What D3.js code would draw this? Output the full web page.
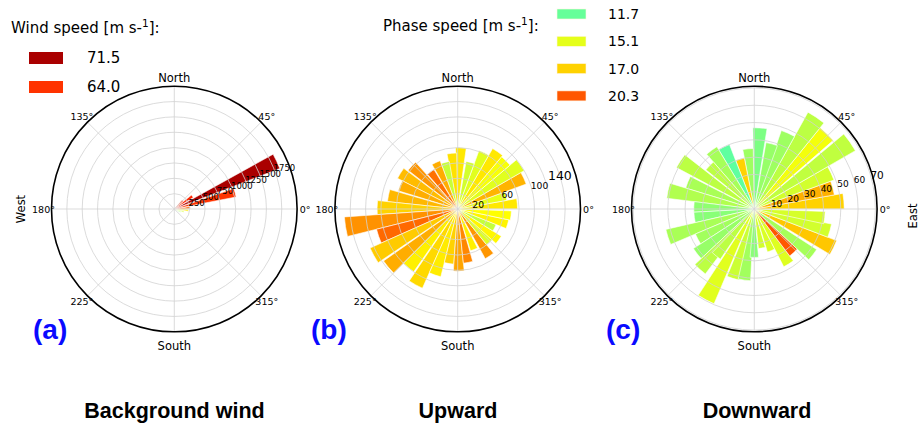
<!DOCTYPE html>
<html>
<head>
<meta charset="utf-8">
<script src="https://cdn.jsdelivr.net/npm/d3@7"></script>
<style>
  body { margin: 0; background: #fff; }
  text { font-family: "DejaVu Sans", sans-serif; fill: #000; }
</style>
</head>
<body>
<script>
// ---- data ----
// (a) background wind: direction (deg, counter-clockwise from east), count, wind speed
const dirA   = [335, 345, 355, 5, 15, 25, 35, 45];
const countA = [110, 160, 230, 260, 1025, 1840, 360, 195];
const speedA = [47, 50, 53.7, 61.2, 64.0, 71.5, 64.8, 64.5];
const ringsA = [250, 500, 750, 1000, 1250, 1500, 1750];
const legendA = [71.5, 64.0];

// (b) upward: direction, count, phase speed
const dirB   = [5, 15, 25, 35, 45, 55, 65, 75, 87, 96, 105, 115, 126, 137, 148, 158, 169, 179,
                189, 199, 209, 220, 230, 241, 251, 261, 271, 281, 292, 304, 314, 323, 333, 343, 353];
const countB = [78, 65, 95, 100, 89, 91, 81, 63, 80, 73, 63, 67, 60, 82, 88, 81, 92, 105,
                148, 109, 125, 118, 100, 113, 91, 72, 81, 71, 57, 74, 60, 67, 54, 68, 70];
const speedB = [16.4, 15.2, 17.8, 15.0, 15.6, 16.4, 15.0, 14.6, 16.4, 16.6, 14.3, 18.0, 19.6, 18.6, 17.6, 18.0, 17.7, 17.0,
                18.7, 19.8, 17.2, 18.0, 16.2, 16.8, 16.3, 17.0, 18.2, 19.0, 16.2, 18.6, 14.9, 16.0, 14.2, 16.1, 15.8];
const ringsB = [20, 40, 60, 80, 100, 120, 140];
const labelsB = [20, 60, 100];

// (c) downward: direction, count, phase speed
const dirC   = [5, 15, 25, 35, 46, 56, 66, 75, 86, 96, 106, 116, 126, 136, 147, 158, 168, 178,
                188, 198, 208, 218, 228, 231, 242, 253, 262, 270, 281, 292, 302, 312, 322, 334, 344, 353];
const countC = [52, 47, 49, 67.5, 60.5, 64, 48, 39, 47, 35, 30, 40, 42, 36, 51, 41.5, 51, 35,
                35, 52.5, 37, 42, 47, 35, 59.5, 42, 41.5, 28, 23, 26, 37.5, 34, 43, 51, 45.5, 41];
const speedC = [17.0, 17.9, 14.6, 14.1, 15.5, 14.0, 13.2, 13.0, 12.3, 13.2, 17.0, 11.5, 13.4, 14.0, 14.0, 13.5, 13.7, 12.8,
                12.6, 13.5, 13.3, 13.0, 14.0, 14.0, 15.0, 14.4, 13.3, 12.6, 14.6, 14.8, 14.9, 20.3, 13.4, 17.3, 14.6, 14.7];
const ringsC = [10, 20, 30, 40, 50, 60, 70];
const labelsC = [10, 20, 30, 40, 50, 60];

const legendPhase = [11.7, 15.1, 17.0, 20.3];
const thetaLabels = [["0°", 0], ["45°", 45], ["North", 90], ["135°", 135],
                     ["180°", 180], ["225°", 225], ["South", 270], ["315°", 315]];

// matplotlib "jet"
function jet(t) {
  const c = x => Math.max(0, Math.min(1, x));
  return d3.rgb(255 * c(1.5 - Math.abs(4 * t - 3)),
                255 * c(1.5 - Math.abs(4 * t - 2)),
                255 * c(1.5 - Math.abs(4 * t - 1))).formatHex();
}
const tWind  = d3.scaleLinear().domain([64.0, 71.5]).range([0.825, 0.958]);
const tPhase = d3.scaleLinear().domain([11.7, 20.3]).range([0.475, 0.79]);

const R = 122.8;
const rad = d => d * Math.PI / 180;

const svg = d3.select("body").append("svg")
    .attr("width", 922)
    .attr("height", 427);

function drawRose(p) {
  const g = svg.append("g").attr("transform", `translate(${p.cx},${p.cy})`);
  const r = d3.scaleLinear().domain([0, p.rmax]).range([0, R]);
  const arc = d3.arc();
  const data = p.dirs.map((d, i) => ({dir: d, val: p.vals[i], spd: p.spds[i]}));

  // bars
  g.selectAll("path.bar")
    .data(data)
    .join("path")
    .attr("class", "bar")
    .attr("d", d => arc({
      innerRadius: 0,
      outerRadius: r(d.val),
      startAngle: rad(90 - d.dir - p.width / 2),
      endAngle: rad(90 - d.dir + p.width / 2)
    }))
    .attr("fill", d => jet(p.tScale(d.spd)))
    .attr("stroke", "#fff")
    .attr("stroke-width", 0.6);

  // grid above bars (matplotlib default)
  g.selectAll("circle.ring")
    .data(p.rings)
    .join("circle")
    .attr("class", "ring")
    .attr("r", d => r(d))
    .attr("fill", "none")
    .attr("stroke", "#d2d2d2")
    .attr("stroke-width", 0.8);

  g.selectAll("line.spoke")
    .data(d3.range(0, 360, 45))
    .join("line")
    .attr("class", "spoke")
    .attr("x1", 0).attr("y1", 0)
    .attr("x2", d => R * Math.cos(rad(d)))
    .attr("y2", d => -R * Math.sin(rad(d)))
    .attr("stroke", "#d2d2d2")
    .attr("stroke-width", 0.8);

  g.append("circle")
    .attr("r", R)
    .attr("fill", "none")
    .attr("stroke", "#000")
    .attr("stroke-width", 1.6);

  // angle labels
  g.selectAll("text.theta")
    .data(thetaLabels)
    .join("text")
    .attr("class", "theta")
    .attr("x", d => (R + (d[1] === 270 ? 14 : 8)) * Math.cos(rad(d[1])))
    .attr("y", d => -(R + (d[1] === 270 ? 14 : 8)) * Math.sin(rad(d[1])))
    .attr("text-anchor", "middle")
    .attr("dominant-baseline", "central")
    .style("font-size", d => (d[1] === 90 || d[1] === 270) ? "11.5px" : "9.5px")
    .text(d => d[0]);

  // radial labels
  const a = rad(p.labelAngle);
  g.selectAll("text.rlab")
    .data(p.labels)
    .join("text")
    .attr("class", "rlab")
    .attr("x", d => r(d) * Math.cos(a))
    .attr("y", d => -r(d) * Math.sin(a))
    .attr("dominant-baseline", "central")
    .style("font-size", p.labelSize)
    .text(d => d);

  if (p.bigLabel) {
    g.append("text")
      .attr("x", r(p.bigLabel) * Math.cos(a))
      .attr("y", -r(p.bigLabel) * Math.sin(a))
      .attr("dominant-baseline", "central")
      .attr("text-anchor", p.bigAnchor)
      .style("font-size", p.bigSize)
      .text(p.bigLabel);
  }
}

drawRose({cx: 174.3, cy: 209, rmax: 2000, dirs: dirA, vals: countA, spds: speedA,
          tScale: tWind, width: 8, rings: ringsA, labels: ringsA, labelAngle: 22.5,
          labelSize: "8.5px"});
drawRose({cx: 457.7, cy: 209, rmax: 160, dirs: dirB, vals: countB, spds: speedB,
          tScale: tPhase, width: 10, rings: ringsB, labels: labelsB, labelAngle: 18,
          labelSize: "9.2px", bigLabel: 140, bigAnchor: "middle", bigSize: "12.5px"});
drawRose({cx: 754.3, cy: 209, rmax: 71, dirs: dirC, vals: countC, spds: speedC,
          tScale: tPhase, width: 10, rings: ringsC, labels: labelsC, labelAngle: 16.5,
          labelSize: "9px", bigLabel: 70, bigAnchor: "start", bigSize: "10.5px"});

// West / East
svg.append("text")
  .attr("transform", "translate(21,209) rotate(-90)")
  .attr("text-anchor", "middle")
  .attr("dominant-baseline", "central")
  .style("font-size", "11.5px")
  .text("West");
svg.append("text")
  .attr("transform", "translate(913,216) rotate(-90)")
  .attr("text-anchor", "middle")
  .attr("dominant-baseline", "central")
  .style("font-size", "11.5px")
  .text("East");

// legend (a)
const titleA = svg.append("text").attr("x", 11).attr("y", 33).style("font-size", "15px");
titleA.append("tspan").text("Wind speed [m s-");
titleA.append("tspan").attr("dy", -6).style("font-size", "10.5px").text("1");
titleA.append("tspan").attr("dy", 6).text("]:");

const legA = svg.selectAll("g.legA")
  .data(legendA)
  .join("g")
  .attr("class", "legA")
  .attr("transform", (d, i) => `translate(29,${52 + i * 29})`);
legA.append("rect").attr("width", 34).attr("height", 12)
  .attr("fill", d => jet(tWind(d)));
legA.append("text").attr("x", 58).attr("y", 6)
  .attr("dominant-baseline", "central")
  .style("font-size", "15px")
  .text(d => d.toFixed(1));

// legend (b)
const titleB = svg.append("text").attr("x", 383).attr("y", 31).style("font-size", "15px");
titleB.append("tspan").text("Phase speed [m s-");
titleB.append("tspan").attr("dy", -6).style("font-size", "10.5px").text("1");
titleB.append("tspan").attr("dy", 6).text("]:");

const legB = svg.selectAll("g.legB")
  .data(legendPhase)
  .join("g")
  .attr("class", "legB")
  .attr("transform", (d, i) => `translate(557,${9 + i * 27.3})`);
legB.append("rect").attr("width", 29).attr("height", 10)
  .attr("fill", d => jet(tPhase(d)))
  .attr("stroke", "#fff5e0")
  .attr("stroke-width", 0.6);
legB.append("text").attr("x", 51).attr("y", 5)
  .attr("dominant-baseline", "central")
  .style("font-size", "14px")
  .text(d => d.toFixed(1));

// panel letters and titles
const panels = [["(a)", 33, "Background wind", 174.5],
                ["(b)", 311, "Upward", 458],
                ["(c)", 606, "Downward", 757]];
panels.forEach(([lab, lx, title, tx]) => {
  svg.append("text")
    .attr("x", lx).attr("y", 339)
    .style("font-family", "'Liberation Sans', Arial, sans-serif")
    .style("font-weight", "bold")
    .style("font-size", "28px")
    .style("fill", "#0a0aff")
    .text(lab);
  svg.append("text")
    .attr("x", tx).attr("y", 418)
    .attr("text-anchor", "middle")
    .style("font-family", "'Liberation Sans', Arial, sans-serif")
    .style("font-weight", "bold")
    .style("font-size", "21.5px")
    .text(title);
});
</script>
</body>
</html>
